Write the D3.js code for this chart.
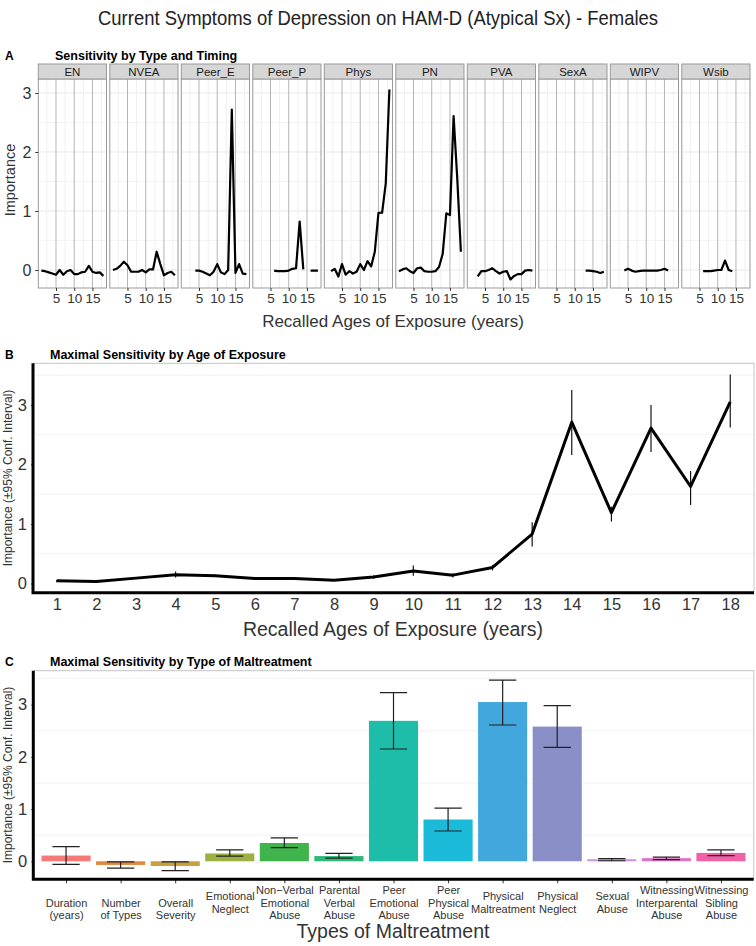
<!DOCTYPE html>
<html>
<head>
<meta charset="utf-8">
<script src="https://cdnjs.cloudflare.com/ajax/libs/d3/7.8.5/d3.min.js"></script>
<style>
    body { margin: 0; background: #fff; }
    svg { font-family: "Liberation Sans", Arial, Helvetica, sans-serif; }
</style>
</head>
<body>
<div id="chart"></div>
<script>
let main_title = 'Current Symptoms of Depression on HAM-D (Atypical Sx) - Females';

// panel A: importance by type and age (null = not estimated)
let ages = [1, 2, 3, 4, 5, 6, 7, 8, 9, 10, 11, 12, 13, 14, 15, 16, 17, 18];
let facet_types = ['EN', 'NVEA', 'Peer_E', 'Peer_P', 'Phys', 'PN', 'PVA', 'SexA', 'WIPV', 'Wsib'];
let en_vals = [-0.01, -0.02, -0.04, -0.06, -0.08, 0.0, -0.08, -0.02, 0.0, -0.07, -0.07, -0.04, -0.03, 0.07, -0.03, -0.05, -0.04, -0.1];
let nvea_vals = [0.0, 0.02, 0.07, 0.14, 0.08, -0.03, -0.03, -0.03, 0.0, -0.04, 0.01, 0.01, 0.31, 0.1, -0.09, -0.05, -0.03, -0.09];
let peer_e_vals = [null, null, null, -0.01, -0.01, -0.03, -0.06, -0.09, -0.03, 0.1, -0.04, -0.07, 0.0, 2.72, -0.05, 0.1, -0.06, -0.07];
let peer_p_vals = [null, null, null, null, null, -0.01, -0.02, -0.02, -0.02, -0.01, 0.02, 0.03, 0.82, 0.01, null, -0.01, -0.01, -0.01];
let phys_vals = [null, -0.02, 0.02, -0.11, 0.1, -0.08, -0.02, -0.06, -0.03, 0.1, 0.0, 0.15, 0.06, 0.31, 0.97, 0.97, 1.47, 3.06];
let pn_vals = [-0.02, 0.01, 0.03, -0.02, -0.05, 0.03, 0.04, -0.02, -0.03, -0.03, -0.02, 0.05, 0.27, 0.96, 0.93, 2.61, 1.55, 0.31];
let pva_vals = [null, null, -0.11, -0.02, -0.02, 0.0, 0.03, -0.02, -0.06, -0.03, -0.02, -0.16, -0.1, -0.07, -0.07, -0.01, 0.0, -0.01];
let sexa_vals = [null, null, null, null, null, null, null, null, null, null, null, null, -0.01, -0.01, -0.02, -0.03, -0.05, -0.03];
let wipv_vals = [null, null, null, -0.01, 0.02, -0.01, -0.03, -0.02, -0.01, -0.01, -0.01, -0.01, -0.01, 0.0, 0.02, -0.01, null, null];
let wsib_vals = [null, null, null, null, null, -0.02, -0.02, -0.02, -0.01, 0.0, 0.0, 0.16, 0.0, -0.02, null, null, null, null];
let facet_vals = [en_vals, nvea_vals, peer_e_vals, peer_p_vals, phys_vals, pn_vals, pva_vals, sexa_vals, wipv_vals, wsib_vals];

// panel B: maximal sensitivity by age
let age_imp = [0.045, 0.035, 0.09, 0.145, 0.13, 0.085, 0.085, 0.055, 0.11, 0.21, 0.14, 0.27, 0.83, 2.71, 1.19, 2.61, 1.63, 3.05];
let age_lo = [0.02, 0.02, 0.07, 0.1, 0.11, 0.07, 0.07, 0.04, 0.08, 0.13, 0.1, 0.22, 0.62, 2.16, 1.04, 2.21, 1.32, 2.62];
let age_hi = [0.06, 0.05, 0.11, 0.2, 0.15, 0.1, 0.1, 0.07, 0.14, 0.3, 0.17, 0.31, 1.03, 3.25, 1.29, 3.0, 1.89, 3.51];

// panel C: maximal sensitivity by type
let type_labels = ['\nDuration\n(years)', '\nNumber\nof Types', '\nOverall\nSeverity', 'Emotional\nNeglect',
    'Non\u2212Verbal\nEmotional\nAbuse', 'Parental\nVerbal\nAbuse', 'Peer\nEmotional\nAbuse', 'Peer\nPhysical\nAbuse',
    'Physical\nMaltreatment', 'Physical\nNeglect', 'Sexual\nAbuse', 'Witnessing\nInterparental\nAbuse', 'Witnessing\nSibling\nAbuse'];
let type_imp = [0.11, -0.07, -0.09, 0.15, 0.35, 0.1, 2.69, 0.8, 3.05, 2.58, 0.04, 0.06, 0.16];
let type_lo = [-0.06, -0.13, -0.18, 0.1, 0.26, 0.06, 2.15, 0.58, 2.61, 2.18, 0.01, 0.03, 0.11];
let type_hi = [0.28, -0.01, -0.01, 0.22, 0.45, 0.15, 3.23, 1.02, 3.47, 2.98, 0.05, 0.08, 0.22];
let type_colors = ['#f47a78', '#e0893a', '#c9a03c', '#9db143', '#3fb34c', '#2fb87a', '#1ebda9', '#1bbad9',
    '#41a7dc', '#8a8fc8', '#cf95e2', '#e070c9', '#ef62a7'];

let svg = d3.select('#chart').append('svg')
    .attr('width', 756)
    .attr('height', 946);

svg.append('text')
    .attr('x', 378).attr('y', 25)
    .attr('text-anchor', 'middle')
    .attr('font-size', 21)
    .attr('textLength', 560)
    .attr('lengthAdjust', 'spacingAndGlyphs')
    .attr('fill', '#222')
    .text(main_title);

function panel_title(letter, title, x, y) {
    svg.append('text').attr('x', 5).attr('y', y)
        .attr('font-size', 12).attr('font-weight', 'bold').text(letter);
    svg.append('text').attr('x', x).attr('y', y)
        .attr('font-size', 12.5).attr('font-weight', 'bold').text(title);
}

function style_axis(g, size, col) {
    g.select('.domain').remove();
    g.selectAll('.tick line').attr('stroke', '#333');
    g.selectAll('.tick text').attr('font-size', size).attr('fill', col || '#333');
}

// ---------- A ----------
panel_title('A', 'Sensitivity by Type and Timing', 55, 60);

let a_top = 79, a_bot = 288, a_left = 38.3, a_w = 68.2, a_step = 71.5;
let ya = d3.scaleLinear().domain([-0.305, 3.237]).range([a_bot, a_top]);
let xa = d3.scaleLinear().domain([0.15, 18.85]).range([0, a_w]);
let line_a = d3.line()
    .defined(d => d[1] != null)
    .x(d => xa(d[0]))
    .y(d => ya(d[1]));

facet_types.forEach((t, i) => {
    let g = svg.append('g').attr('transform', `translate(${a_left + i * a_step},0)`);

    g.selectAll('.hminor').data([0.5, 1.5, 2.5]).join('line')
        .attr('x1', 0).attr('x2', a_w).attr('y1', d => ya(d)).attr('y2', d => ya(d))
        .attr('stroke', '#f4f4f4');
    g.selectAll('.hmajor').data([0, 1, 2, 3]).join('line')
        .attr('x1', 0).attr('x2', a_w).attr('y1', d => ya(d)).attr('y2', d => ya(d))
        .attr('stroke', '#e8e8e8');
    g.selectAll('.vminor').data([2.5, 7.5, 12.5, 17.5]).join('line')
        .attr('x1', d => xa(d)).attr('x2', d => xa(d)).attr('y1', a_top).attr('y2', a_bot)
        .attr('stroke', '#f0f0f0');
    g.selectAll('.vmajor').data([5, 10, 15]).join('line')
        .attr('x1', d => xa(d)).attr('x2', d => xa(d)).attr('y1', a_top).attr('y2', a_bot)
        .attr('stroke', '#b5b5b5');

    g.append('path')
        .datum(ages.map((a, k) => [a, facet_vals[i][k]]))
        .attr('d', line_a)
        .attr('fill', 'none')
        .attr('stroke', '#000')
        .attr('stroke-width', 2.2)
        .attr('stroke-linejoin', 'round');

    g.append('rect')
        .attr('x', 0).attr('y', a_top).attr('width', a_w).attr('height', a_bot - a_top)
        .attr('fill', 'none').attr('stroke', '#9a9a9a');

    g.append('rect')
        .attr('x', 0).attr('y', 64).attr('width', a_w).attr('height', a_top - 64)
        .attr('fill', '#d6d6d6').attr('stroke', '#9a9a9a');
    g.append('text')
        .attr('x', a_w / 2).attr('y', 75.5)
        .attr('text-anchor', 'middle')
        .attr('font-size', 11.5)
        .attr('fill', '#1a1a1a')
        .text(t);

    g.append('g')
        .attr('transform', `translate(0,${a_bot})`)
        .call(d3.axisBottom(xa).tickValues([5, 10, 15]).tickSize(3).tickPadding(2))
        .call(ax => style_axis(ax, 13.5));
});

svg.append('g')
    .attr('transform', `translate(${a_left},0)`)
    .call(d3.axisLeft(ya).tickValues([0, 1, 2, 3]).tickFormat(d3.format('d')).tickSize(3).tickPadding(4))
    .call(ax => style_axis(ax, 16));

svg.append('text')
    .attr('transform', 'translate(15,180) rotate(-90)')
    .attr('text-anchor', 'middle')
    .attr('font-size', 14.5).attr('fill', '#333')
    .text('Importance');
svg.append('text')
    .attr('x', 393).attr('y', 327)
    .attr('text-anchor', 'middle')
    .attr('font-size', 17).attr('fill', '#333')
    .text('Recalled Ages of Exposure (years)');

// ---------- B ----------
panel_title('B', 'Maximal Sensitivity by Age of Exposure', 50, 359);

let b_top = 363.3, b_bot = 592.7, b_left = 33, b_right = 754;
let xb = d3.scalePoint().domain(ages).range([b_left, b_right]).padding(0.6);
let yb = d3.scaleLinear().domain([-0.155, 3.70]).range([b_bot, b_top]);

svg.append('g').selectAll('line')
    .data([0.5, 1.5, 2.5, 3.5]).join('line')
    .attr('x1', b_left).attr('x2', b_right).attr('y1', d => yb(d)).attr('y2', d => yb(d))
    .attr('stroke', '#f2f2f2');
svg.append('path')
    .attr('d', `M${b_left},${b_top}H${b_right}V${b_bot}`)
    .attr('fill', 'none').attr('stroke', '#cfcfcf').attr('stroke-width', 1.2);

svg.append('g').selectAll('line')
    .data(ages).join('line')
    .attr('x1', d => xb(d)).attr('x2', d => xb(d))
    .attr('y1', (d, i) => yb(age_lo[i])).attr('y2', (d, i) => yb(age_hi[i]))
    .attr('stroke', '#000').attr('stroke-width', 1.1);

svg.append('path')
    .datum(ages.map((a, i) => [a, age_imp[i]]))
    .attr('d', d3.line().x(d => xb(d[0])).y(d => yb(d[1])))
    .attr('fill', 'none')
    .attr('stroke', '#000')
    .attr('stroke-width', 3)
    .attr('stroke-linejoin', 'round');

svg.append('g')
    .attr('transform', `translate(${b_left},0)`)
    .call(d3.axisLeft(yb).tickValues([0, 1, 2, 3]).tickFormat(d3.format('d')).tickSize(2).tickPadding(4))
    .call(ax => style_axis(ax, 16.5));
svg.append('g')
    .attr('transform', `translate(0,${b_bot})`)
    .call(d3.axisBottom(xb).tickSize(0).tickPadding(6))
    .call(ax => style_axis(ax, 16.5));
svg.append('path')
    .attr('d', `M${b_left},${b_top}V${b_bot}H${b_right}`)
    .attr('fill', 'none').attr('stroke', '#000').attr('stroke-width', 3);

svg.append('text')
    .attr('transform', `translate(12,${(b_top + b_bot) / 2}) rotate(-90)`)
    .attr('text-anchor', 'middle')
    .attr('font-size', 12).attr('fill', '#333')
    .text('Importance (\u00b195% Conf. Interval)');
svg.append('text')
    .attr('x', 393).attr('y', 636)
    .attr('text-anchor', 'middle')
    .attr('font-size', 19.5).attr('fill', '#333')
    .text('Recalled Ages of Exposure (years)');

// ---------- C ----------
panel_title('C', 'Maximal Sensitivity by Type of Maltreatment', 50, 666);

let c_top = 670.7, c_bot = 879.3, c_left = 33.3, c_right = 753.7;
let xc = d3.scalePoint().domain(type_labels).range([c_left, c_right]).padding(0.6);
let yc = d3.scaleLinear().domain([-0.345, 3.65]).range([c_bot, c_top]);
let bw = xc.step() * 0.9, ew = xc.step() * 0.25;

svg.append('g').selectAll('line')
    .data([0.5, 1.5, 2.5, 3.5]).join('line')
    .attr('x1', c_left).attr('x2', c_right).attr('y1', d => yc(d)).attr('y2', d => yc(d))
    .attr('stroke', '#f2f2f2');
svg.append('path')
    .attr('d', `M${c_left},${c_top}H${c_right}V${c_bot}`)
    .attr('fill', 'none').attr('stroke', '#cfcfcf').attr('stroke-width', 1.2);

svg.append('g').selectAll('rect')
    .data(type_labels).join('rect')
    .attr('x', d => xc(d) - bw / 2)
    .attr('width', bw)
    .attr('y', (d, i) => yc(Math.max(0, type_imp[i])))
    .attr('height', (d, i) => Math.abs(yc(type_imp[i]) - yc(0)))
    .attr('fill', (d, i) => type_colors[i]);

svg.append('g').selectAll('path')
    .data(type_labels).join('path')
    .attr('d', (d, i) => {
        let x = xc(d), lo = yc(type_lo[i]), hi = yc(type_hi[i]);
        return `M${x - ew},${hi}H${x + ew}M${x},${hi}V${lo}M${x - ew},${lo}H${x + ew}`;
    })
    .attr('fill', 'none').attr('stroke', '#222').attr('stroke-width', 1.2);

svg.append('g')
    .attr('transform', `translate(${c_left},0)`)
    .call(d3.axisLeft(yc).tickValues([0, 1, 2, 3]).tickFormat(d3.format('d')).tickSize(2).tickPadding(4))
    .call(ax => style_axis(ax, 16.5));

let c_axis = svg.append('g')
    .attr('transform', `translate(0,${c_bot})`)
    .call(d3.axisBottom(xc).tickSize(4))
    .call(ax => style_axis(ax, 11));
c_axis.selectAll('.tick text').each(function (d) {
    let lines = d.split('\n');
    let t = d3.select(this).text(null).attr('y', 0).attr('dy', null);
    lines.forEach((s, k) => {
        t.append('tspan')
            .attr('x', 0)
            .attr('y', 23.4 + (k - (lines.length - 1) / 2) * 12.4 + 4)
            .text(s);
    });
});
svg.append('path')
    .attr('d', `M${c_left},${c_top}V${c_bot}H${c_right}`)
    .attr('fill', 'none').attr('stroke', '#000').attr('stroke-width', 3);

svg.append('text')
    .attr('transform', `translate(12,${(c_top + c_bot) / 2}) rotate(-90)`)
    .attr('text-anchor', 'middle')
    .attr('font-size', 12).attr('fill', '#333')
    .text('Importance (\u00b195% Conf. Interval)');
svg.append('text')
    .attr('x', 393).attr('y', 938)
    .attr('text-anchor', 'middle')
    .attr('font-size', 19.5).attr('fill', '#333')
    .text('Types of Maltreatment');
</script>
</body>
</html>
